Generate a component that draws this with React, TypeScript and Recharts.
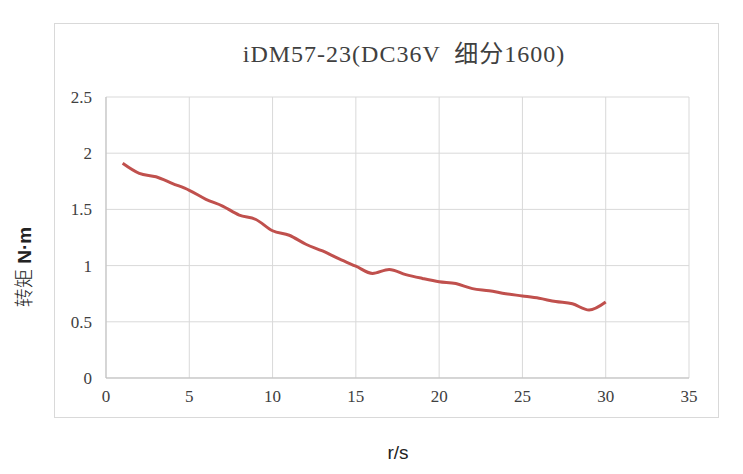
import React from "react";
import { LineChart, Line, XAxis, YAxis, CartesianGrid } from "recharts";

const speeds = [1, 2, 3, 4, 5, 6, 7, 8, 9, 10, 11, 12, 13, 14, 15, 16, 17, 18, 19, 20, 21, 22, 23, 24, 25, 26, 27, 28, 29, 30];
const torques = [1.91, 1.82, 1.79, 1.73, 1.67, 1.59, 1.53, 1.45, 1.41, 1.31, 1.27, 1.19, 1.13, 1.06, 0.995, 0.93, 0.966, 0.92, 0.886, 0.857, 0.84, 0.795, 0.777, 0.75, 0.73, 0.709, 0.68, 0.66, 0.605, 0.676];
const xTicks = [0, 5, 10, 15, 20, 25, 30, 35];
const yTicks = [0, 0.5, 1, 1.5, 2, 2.5];
const title = "iDM57-23(DC36V  细分1600)";
const xLabel = "r/s";
const yLabelCjk = "转矩";
const yLabelUnit = " N·m";

const data = speeds.map((s, i) => ({ x: s, y: torques[i] }));

const serif = "'Liberation Serif', 'DejaVu Serif', 'Noto Sans CJK SC', serif";
const tickStyle = { fontFamily: serif, fontSize: 17, fill: "#404040" };

export default function App() {
  return (
    <div style={{ position: "absolute", left: 0, top: 0, width: 743, height: 474, background: "#fff" }}>
      <div style={{ position: "absolute", left: 54, top: 23, width: 665, height: 395, border: "1px solid #d9d9d9", boxSizing: "border-box" }} />
      <div style={{ position: "absolute", left: 0, top: 0 }}>
        <LineChart width={743} height={474} data={data} margin={{ top: 97, right: 54, bottom: 66, left: 56 }}>
          <CartesianGrid stroke="#d9d9d9" strokeWidth={1} />
          <XAxis
            type="number"
            dataKey="x"
            domain={[0, 35]}
            ticks={xTicks}
            height={30}
            tickLine={false}
            tickSize={0}
            tickMargin={12}
            axisLine={{ stroke: "#bfbfbf" }}
            tick={tickStyle}
            interval={0}
          />
          <YAxis
            type="number"
            domain={[0, 2.5]}
            ticks={yTicks}
            width={50}
            tickLine={false}
            tickSize={0}
            tickMargin={14}
            axisLine={{ stroke: "#bfbfbf" }}
            tick={tickStyle}
            interval={0}
          />
          <Line type="monotone" dataKey="y" stroke="#C0504D" strokeWidth={3} dot={false} isAnimationActive={false} />
        </LineChart>
      </div>
      <div style={{ position: "absolute", left: 204, width: 400, top: 39, textAlign: "center", fontFamily: serif, fontSize: 24, letterSpacing: 1, color: "#404040", whiteSpace: "pre", lineHeight: "30px" }}>
        {title}
      </div>
      <div style={{ position: "absolute", left: 348, width: 100, top: 440, textAlign: "center", fontFamily: "'Liberation Sans', 'Noto Sans CJK SC', sans-serif", fontSize: 19, color: "#222", lineHeight: "26px" }}>
        {xLabel}
      </div>
      <div style={{ position: "absolute", left: 25 - 60, top: 267 - 13, width: 120, height: 26, textAlign: "center", transform: "rotate(-90deg)", fontFamily: "'Liberation Sans', 'Noto Sans CJK SC', sans-serif", fontSize: 19, color: "#222", lineHeight: "26px", whiteSpace: "pre" }}>
        <span style={{ fontWeight: 300 }}>{yLabelCjk}</span><span style={{ fontWeight: "bold" }}>{yLabelUnit}</span>
      </div>
    </div>
  );
}
